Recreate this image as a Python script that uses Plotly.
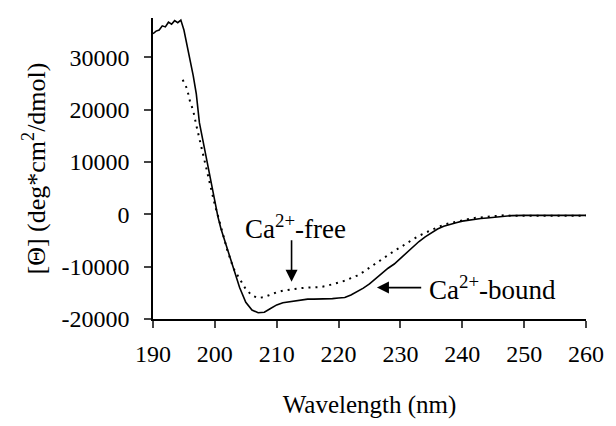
import plotly.graph_objects as go

# Ca2+-bound (solid)
wl_bound = [190, 190.5, 191, 191.5, 192, 192.5, 193, 193.5, 194, 194.5, 195, 195.5, 196, 196.5, 197, 197.5,
            198, 198.5, 199, 199.5, 200, 200.5, 201, 202, 203, 204, 205, 206, 207, 208, 209, 210, 211, 212,
            213, 214, 215, 216, 217, 218, 219, 220, 221, 222, 223, 224, 225, 226, 227, 228, 229, 230, 231,
            232, 233, 234, 235, 236, 237, 238, 239, 240, 241, 242, 243, 244, 245, 246, 247, 248, 250, 252,
            254, 256, 258, 260]
theta_bound = [34500, 35000, 35200, 36000, 35800, 36700, 36300, 37000, 36600, 37100, 35200, 32500, 29500,
               26500, 23000, 17500, 14500, 11500, 8500, 5500, 1800, -500, -2800, -6500, -10500, -14000,
               -16800, -18300, -18800, -18700, -18000, -17300, -16900, -16700, -16500, -16300, -16200,
               -16200, -16200, -16200, -16100, -16000, -15900, -15400, -14800, -14100, -13300, -12300,
               -11200, -10300, -9500, -8400, -7300, -6300, -5200, -4300, -3500, -2800, -2300, -1900, -1600,
               -1300, -1100, -900, -800, -700, -600, -400, -300, -250, -200, -200, -200, -200, -200, -200]

# Ca2+-free (dotted)
wl_free = [194.8, 195, 195.5, 196, 196.5, 197, 197.5, 198, 198.5, 199, 199.5, 200, 200.5, 201, 202, 203, 204,
           205, 206, 207, 208, 209, 210, 211, 212, 213, 214, 215, 216, 217, 218, 219, 220, 221, 222, 223,
           224, 225, 226, 227, 228, 229, 230, 231, 232, 233, 234, 235, 236, 237, 238, 239, 240, 241, 242,
           243, 244, 245, 246, 247, 248, 250, 252, 254, 256, 258, 260]
theta_free = [25700, 25200, 24000, 21500, 19800, 17000, 14500, 11800, 9000, 6500, 4000, 1800, -300, -2500,
              -6800, -10300, -12300, -14300, -15500, -16000, -15800, -15300, -14900, -14600, -14400, -14200,
              -14100, -14000, -14000, -13900, -13700, -13400, -13100, -12700, -12200, -11700, -11000, -10200,
              -9300, -8500, -7700, -7000, -6300, -5500, -4800, -4100, -3500, -3000, -2500, -2000, -1700,
              -1400, -1100, -900, -700, -600, -500, -400, -300, -150, -300, -300, -250, -250, -250, -250, -250]

x_ticks = [190, 200, 210, 220, 230, 240, 250, 260]
y_ticks = [-20000, -10000, 0, 10000, 20000, 30000]
y_ticktext = ["-20000", "-10000", "0", "10000", "20000", "30000"]

FONT = "Liberation Serif"

fig = go.Figure()
fig.add_trace(go.Scatter(x=wl_free, y=theta_free, mode="lines",
                         line=dict(color="black", width=2, dash="2px,5px"), showlegend=False))
fig.add_trace(go.Scatter(x=wl_bound, y=theta_bound, mode="lines",
                         line=dict(color="black", width=1.6), showlegend=False))

# labels and arrows
fig.add_annotation(x=213.0, y=-2400, text="Ca<sup>2+</sup>-free", showarrow=False,
                   font=dict(family=FONT, size=27, color="black"))
fig.add_annotation(x=212.4, y=-12870, ax=212.4, ay=-4660, axref="x", ayref="y", text="",
                   showarrow=True, arrowhead=2, arrowsize=1.5, arrowwidth=1.6, arrowcolor="black")
fig.add_annotation(x=234.3, y=-14000, text="Ca<sup>2+</sup>-bound", showarrow=False, xanchor="left",
                   font=dict(family=FONT, size=27, color="black"))
fig.add_annotation(x=226.2, y=-14000, ax=233.6, ay=-14000, axref="x", ayref="y", text="",
                   showarrow=True, arrowhead=2, arrowsize=1.5, arrowwidth=1.6, arrowcolor="black")

fig.update_layout(
    width=616, height=426,
    margin=dict(l=153, r=24, t=18, b=100),
    plot_bgcolor="white", paper_bgcolor="white",
    font=dict(family=FONT, size=24, color="black"),
    showlegend=False,
)
fig.update_xaxes(range=[190, 260], tickvals=x_ticks, ticks="outside", ticklen=7, tickwidth=1.5,
                 showline=True, linecolor="black", linewidth=1.5, showgrid=False, zeroline=False,
                 ticklabelstandoff=5,
                 title=dict(text="Wavelength (nm)", font=dict(family=FONT, size=25), standoff=30),
                 tickfont=dict(family=FONT, size=24))
fig.update_yaxes(range=[-20000, 37500], tickvals=y_ticks, ticktext=y_ticktext, ticks="outside",
                 ticklen=7, tickwidth=1.5, showline=True, linecolor="black", linewidth=1.5,
                 showgrid=False, zeroline=False, ticklabelstandoff=10,
                 title=dict(text="[Θ] (deg*cm<sup>2</sup>/dmol)", font=dict(family=FONT, size=26), standoff=8),
                 tickfont=dict(family=FONT, size=24))

fig.write_html("out.html")
